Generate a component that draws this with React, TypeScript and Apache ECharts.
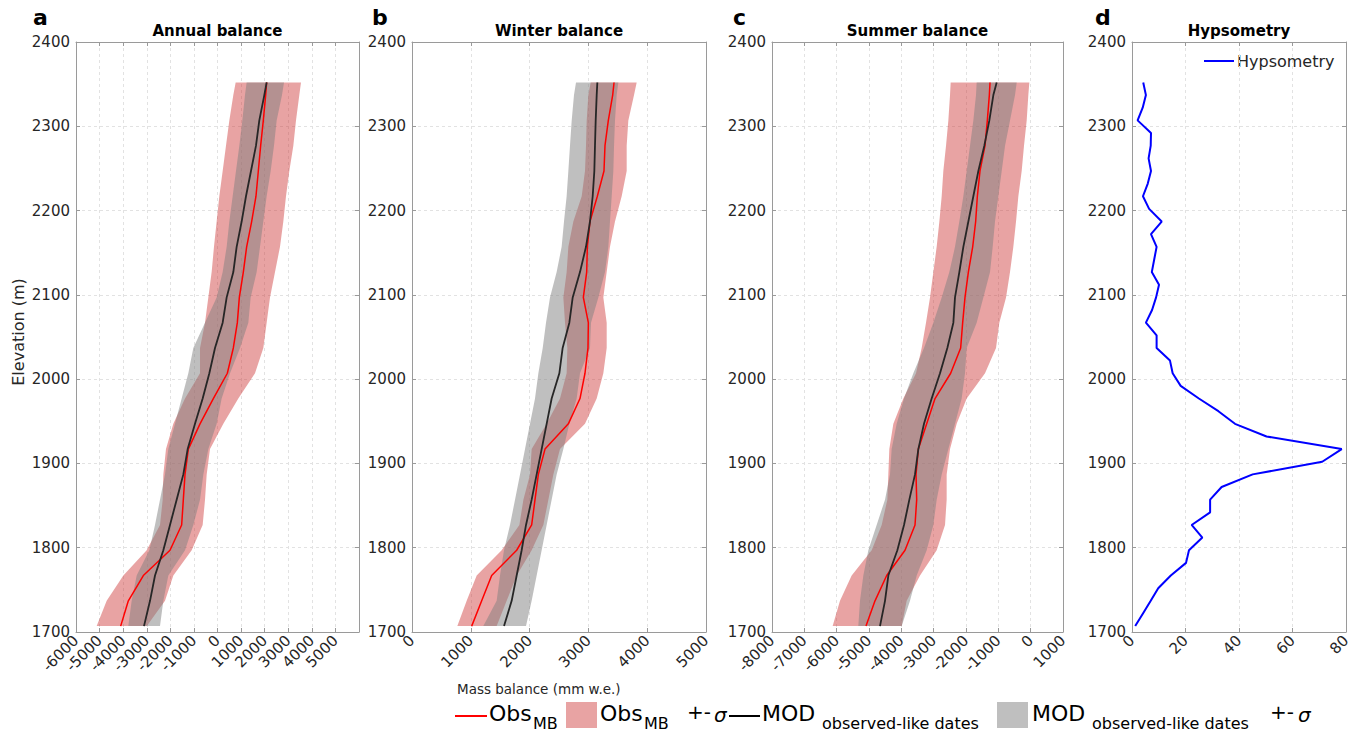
import React, { useEffect, useRef } from 'react';
import * as echarts from 'echarts';

const FONT = '"DejaVu Sans", Verdana, sans-serif';

// Elevation levels (m) of the mass-balance profiles
const ELEV = [1707, 1737, 1767, 1797, 1827, 1857, 1887, 1917, 1947, 1977, 2007, 2037, 2067, 2097, 2127, 2157, 2187, 2217, 2247, 2277, 2307, 2337, 2352];

// a: Annual balance (mm w.e.)
const A_OBS_LO = [-5123, -4699, -3993, -3003, -2438, -2325, -2297, -2184, -1873, -1378, -742, -742, -530, -389, -248, -149, -36, 77, 219, 360, 502, 671, 770];
const A_OBS_HI = [-2997, -2226, -1873, -1096, -629, -530, -459, -318, 247, 883, 1590, 1943, 2084, 2226, 2438, 2650, 2791, 2904, 3045, 3215, 3328, 3469, 3540];
const A_OBS = [-4106, -3781, -3145, -2014, -1520, -1449, -1378, -1237, -742, -177, 417, 671, 841, 926, 1095, 1236, 1448, 1632, 1731, 1830, 1943, 2042, 2084];
const A_MOD_LO = [-3781, -3639, -3427, -2890, -2650, -2438, -2226, -2085, -1802, -1520, -1237, -1025, -530, -36, 219, 389, 502, 643, 784, 926, 1053, 1166, 1236];
const A_MOD_HI = [-2438, -2297, -2085, -1378, -1025, -742, -601, -389, -36, 176, 530, 954, 1307, 1406, 1660, 1802, 1943, 2084, 2254, 2395, 2508, 2735, 2820];
const A_MOD = [-3117, -2862, -2650, -2297, -2014, -1732, -1449, -1265, -954, -629, -346, -106, 219, 389, 671, 812, 1024, 1208, 1420, 1632, 1773, 1985, 2084];

// b: Winter balance
const B_OBS_LO = [771, 930, 1100, 1525, 1826, 1894, 2007, 2035, 2290, 2517, 2630, 2642, 2602, 2574, 2630, 2659, 2744, 2886, 2942, 2959, 2971, 2999, 3039];
const B_OBS_HI = [1440, 1610, 1780, 2035, 2234, 2319, 2404, 2517, 2942, 3141, 3254, 3311, 3311, 3254, 3311, 3367, 3452, 3566, 3651, 3651, 3679, 3776, 3821];
const B_OBS = [1015, 1185, 1355, 1780, 2035, 2092, 2149, 2262, 2659, 2857, 2942, 2993, 2999, 2914, 2971, 2982, 3027, 3152, 3265, 3282, 3339, 3413, 3436];
const B_MOD_LO = [1213, 1440, 1497, 1565, 1667, 1752, 1837, 1922, 2007, 2092, 2149, 2223, 2279, 2347, 2460, 2545, 2585, 2630, 2659, 2687, 2716, 2755, 2789];
const B_MOD_HI = [1939, 2035, 2120, 2205, 2290, 2375, 2460, 2574, 2676, 2800, 2857, 3027, 3044, 3169, 3282, 3339, 3367, 3396, 3424, 3436, 3452, 3481, 3509];
const B_MOD = [1565, 1695, 1780, 1865, 1939, 2035, 2120, 2205, 2290, 2375, 2506, 2562, 2676, 2733, 2857, 2959, 3027, 3073, 3101, 3112, 3124, 3141, 3152];

// c: Summer balance
const C_OBS_LO = [-6124, -5897, -5536, -4917, -4608, -4433, -4402, -4371, -4247, -3938, -3546, -3371, -3237, -3113, -3010, -2907, -2824, -2752, -2701, -2618, -2546, -2494, -2474];
const C_OBS_HI = [-3989, -3835, -3422, -2907, -2649, -2598, -2598, -2494, -2288, -1979, -1412, -1072, -969, -762, -639, -536, -453, -381, -278, -206, -123, -72, -41];
const C_OBS = [-5093, -4814, -4453, -3886, -3577, -3525, -3546, -3474, -3216, -2958, -2474, -2165, -2103, -2031, -1927, -1793, -1701, -1649, -1567, -1412, -1340, -1278, -1257];
const C_MOD_LO = [-5330, -5278, -5175, -5020, -4763, -4505, -4350, -4299, -4144, -3917, -3629, -3299, -3010, -2752, -2515, -2340, -2206, -2082, -1979, -1876, -1773, -1690, -1670];
const C_MOD_HI = [-3989, -3732, -3525, -3216, -3010, -2907, -2752, -2546, -2340, -2134, -2031, -1979, -1670, -1463, -1257, -1175, -1103, -1000, -896, -793, -639, -484, -432];
const C_MOD = [-4660, -4505, -4402, -4123, -3917, -3752, -3577, -3474, -3299, -3062, -2804, -2577, -2391, -2340, -2206, -2082, -1927, -1773, -1618, -1433, -1278, -1154, -1051];

// d: Hypsometry
const HYPSO_ELEV = [1707, 1722, 1737, 1752, 1767, 1782, 1797, 1812, 1827, 1842, 1857, 1872, 1887, 1902, 1917, 1932, 1947, 1962, 1977, 1992, 2007, 2022, 2037, 2052, 2067, 2082, 2097, 2112, 2127, 2142, 2157, 2172, 2187, 2202, 2217, 2232, 2247, 2262, 2277, 2292, 2307, 2322, 2337, 2352];
const HYPSO = [1.2, 4.1, 7.0, 9.8, 14.5, 20.2, 21.3, 26.3, 22.3, 29.2, 29.2, 33.5, 45.1, 71.1, 78.4, 50.3, 38.5, 32.3, 25, 18.2, 15.2, 14.2, 9.2, 9.2, 5.2, 7.5, 9.0, 10.1, 7.4, 8.3, 9.2, 7.1, 11.1, 6.4, 4.1, 5.9, 7.1, 6.2, 7.0, 7.1, 2.1, 4.0, 5.2, 4.2];

const TITLES = ['Annual balance', 'Winter balance', 'Summer balance', 'Hypsometry'];
const LETTERS = ['a', 'b', 'c', 'd'];

const PANELS = [
  { min: -6000, max: 6000, interval: 1000, hideMax: true, obsLo: A_OBS_LO, obsHi: A_OBS_HI, obs: A_OBS, modLo: A_MOD_LO, modHi: A_MOD_HI, mod: A_MOD },
  { min: 0, max: 5000, interval: 1000, hideMax: false, obsLo: B_OBS_LO, obsHi: B_OBS_HI, obs: B_OBS, modLo: B_MOD_LO, modHi: B_MOD_HI, mod: B_MOD },
  { min: -8000, max: 1000, interval: 1000, hideMax: false, obsLo: C_OBS_LO, obsHi: C_OBS_HI, obs: C_OBS, modLo: C_MOD_LO, modHi: C_MOD_HI, mod: C_MOD },
];

const GRIDS = [
  { left: 76, top: 42, width: 283, height: 590 },
  { left: 412, top: 42, width: 294, height: 590 },
  { left: 772, top: 42, width: 291, height: 590 },
  { left: 1132, top: 42, width: 214, height: 590 },
];

const AXIS_COLOR = '#9a9a9a';
const LABEL_COLOR = '#262626';
const PINK = 'rgba(204,51,51,0.45)';
const GRAY = 'rgba(128,128,128,0.5)';
const plain = (v: number) => String(v);

function bandSeries(idx: number, lo: number[], hi: number[], fill: string, name: string) {
  return {
    type: 'custom',
    name,
    xAxisIndex: idx * 2,
    yAxisIndex: idx * 2,
    silent: true,
    data: ELEV.map((e, i) => [lo[i], hi[i], e]),
    encode: { x: [0, 1], y: 2 },
    renderItem: (params: any, api: any) => {
      if (params.dataIndex !== 0) return null;
      const pts: number[][] = [];
      for (let i = 0; i < ELEV.length; i++) pts.push(api.coord([lo[i], ELEV[i]]));
      for (let i = ELEV.length - 1; i >= 0; i--) pts.push(api.coord([hi[i], ELEV[i]]));
      return { type: 'polygon', shape: { points: pts }, style: { fill, stroke: null } };
    },
  };
}

function buildOption() {
  const xAxis: any[] = [];
  const yAxis: any[] = [];
  const xDefs = [
    ...PANELS.map((p) => ({ min: p.min, max: p.max, interval: p.interval, hideMax: p.hideMax })),
    { min: 0, max: 80, interval: 20, hideMax: false },
  ];
  xDefs.forEach((d, i) => {
    const axisLabel: any = { rotate: 45, margin: 6, fontSize: 15, color: LABEL_COLOR, fontFamily: FONT, formatter: plain };
    if (d.hideMax) axisLabel.showMaxLabel = false;
    xAxis.push({
      type: 'value', gridIndex: i, position: 'bottom', min: d.min, max: d.max, interval: d.interval,
      axisLine: { show: true, onZero: false, lineStyle: { color: AXIS_COLOR, width: 1 } },
      axisTick: { show: true, inside: true, length: 4, lineStyle: { color: AXIS_COLOR } },
      axisLabel,
      splitLine: { show: true, lineStyle: { color: '#e2e2e2', type: [3, 3], width: 1 } },
    });
    xAxis.push({
      type: 'value', gridIndex: i, position: 'top', min: d.min, max: d.max, interval: d.interval,
      axisLine: { show: true, onZero: false, lineStyle: { color: AXIS_COLOR, width: 1 } },
      axisTick: { show: true, inside: true, length: 4, lineStyle: { color: AXIS_COLOR } },
      axisLabel: { show: false },
      splitLine: { show: false },
    });
    yAxis.push({
      type: 'value', gridIndex: i, position: 'left', min: 1700, max: 2400, interval: 100,
      axisLine: { show: true, onZero: false, lineStyle: { color: AXIS_COLOR, width: 1 } },
      axisTick: { show: true, inside: true, length: 4, lineStyle: { color: AXIS_COLOR } },
      axisLabel: { margin: 6, fontSize: 15, color: LABEL_COLOR, fontFamily: FONT, formatter: plain },
      splitLine: { show: true, lineStyle: { color: '#e2e2e2', type: [3, 3], width: 1 } },
    });
    yAxis.push({
      type: 'value', gridIndex: i, position: 'right', min: 1700, max: 2400, interval: 100,
      axisLine: { show: true, onZero: false, lineStyle: { color: AXIS_COLOR, width: 1 } },
      axisTick: { show: true, inside: true, length: 4, lineStyle: { color: AXIS_COLOR } },
      axisLabel: { show: false },
      splitLine: { show: false },
    });
  });

  const series: any[] = [];
  PANELS.forEach((p, i) => {
    series.push(bandSeries(i, p.obsLo, p.obsHi, PINK, 'Obs_MB +- σ'));
    series.push({
      type: 'line', name: 'Obs_MB', xAxisIndex: i * 2, yAxisIndex: i * 2, symbol: 'none',
      data: ELEV.map((e, k) => [p.obs[k], e]),
      lineStyle: { color: '#ff0000', width: 1.5 },
    });
    series.push(bandSeries(i, p.modLo, p.modHi, GRAY, 'MOD +- σ'));
    series.push({
      type: 'line', name: 'MOD', xAxisIndex: i * 2, yAxisIndex: i * 2, symbol: 'none',
      data: ELEV.map((e, k) => [p.mod[k], e]),
      lineStyle: { color: '#262626', width: 1.8 },
    });
  });
  series.push({
    type: 'line', name: 'Hypsometry', xAxisIndex: 6, yAxisIndex: 6, symbol: 'none',
    data: HYPSO_ELEV.map((e, k) => [HYPSO[k], e]),
    lineStyle: { color: '#0000ff', width: 2 },
  });

  const graphic: any[] = [];
  GRIDS.forEach((g, i) => {
    graphic.push({
      type: 'text', x: g.left + g.width / 2, y: 31,
      style: { text: TITLES[i], fontSize: 15, fontWeight: 'bold', fontFamily: FONT, fill: '#000', textAlign: 'center', textVerticalAlign: 'middle' },
    });
  });
  const letterX = [33, 372, 733, 1095];
  LETTERS.forEach((l, i) => {
    graphic.push({
      type: 'text', x: letterX[i], y: 17,
      style: { text: l, fontSize: 22, fontWeight: 'bold', fontFamily: FONT, fill: '#000', textAlign: 'left', textVerticalAlign: 'middle' },
    });
  });
  graphic.push({
    type: 'text', x: 18, y: 332, rotation: Math.PI / 2,
    style: { text: 'Elevation (m)', fontSize: 16, fontFamily: FONT, fill: LABEL_COLOR, textAlign: 'center', textVerticalAlign: 'middle' },
  });
  graphic.push({
    type: 'text', x: 457, y: 689,
    style: { text: 'Mass balance (mm w.e.)', fontSize: 13.5, fontFamily: FONT, fill: LABEL_COLOR, textAlign: 'left', textVerticalAlign: 'middle' },
  });
  // Hypsometry legend
  graphic.push({ type: 'line', shape: { x1: 1204, y1: 61, x2: 1234, y2: 61 }, style: { stroke: '#0000ff', lineWidth: 2 } });
  graphic.push({
    type: 'text', x: 1237, y: 61,
    style: { text: 'Hypsometry', fontSize: 16, fontFamily: FONT, fill: LABEL_COLOR, textAlign: 'left', textVerticalAlign: 'middle' },
  });
  // Bottom legend
  const main = (x: number, t: string) => ({
    type: 'text', x, y: 713,
    style: { text: t, fontSize: 22, fontFamily: FONT, fill: '#000', textAlign: 'left', textVerticalAlign: 'middle' },
  });
  const sub = (x: number, t: string) => ({
    type: 'text', x, y: 723,
    style: { text: t, fontSize: 16, fontFamily: FONT, fill: '#000', textAlign: 'left', textVerticalAlign: 'middle' },
  });
  const pm = (x: number) => ({
    type: 'text', x, y: 712,
    style: { text: '+-', fontSize: 20, fontFamily: FONT, fill: '#000', textAlign: 'left', textVerticalAlign: 'middle' },
  });
  const sigma = (x: number) => ({
    type: 'text', x, y: 715,
    style: { text: 'σ', fontSize: 20, fontStyle: 'italic', fontFamily: FONT, fill: '#000', textAlign: 'left', textVerticalAlign: 'middle' },
  });
  graphic.push({ type: 'line', shape: { x1: 455, y1: 716, x2: 487, y2: 716 }, style: { stroke: '#ff0000', lineWidth: 2 } });
  graphic.push(main(489, 'Obs'), sub(533, 'MB'));
  graphic.push({ type: 'rect', shape: { x: 566, y: 702, width: 31, height: 26 }, style: { fill: '#e8a3a3' } });
  graphic.push(main(600, 'Obs'), sub(644, 'MB'), pm(687), sigma(714));
  graphic.push({ type: 'line', shape: { x1: 729, y1: 716, x2: 760, y2: 716 }, style: { stroke: '#000', lineWidth: 2 } });
  graphic.push(main(762, 'MOD'), sub(822, 'observed-like dates'));
  graphic.push({ type: 'rect', shape: { x: 997, y: 702, width: 31, height: 26 }, style: { fill: '#bfbfbf' } });
  graphic.push(main(1032, 'MOD'), sub(1092, 'observed-like dates'), pm(1270), sigma(1298));

  return {
    animation: false,
    backgroundColor: '#ffffff',
    textStyle: { fontFamily: FONT },
    grid: GRIDS.map((g) => ({ ...g, containLabel: false })),
    xAxis,
    yAxis,
    series,
    graphic,
  };
}

export default function App() {
  const ref = useRef<HTMLDivElement>(null);
  useEffect(() => {
    const chart = echarts.init(ref.current!, null, { renderer: 'svg' });
    chart.setOption(buildOption() as any);
    return () => chart.dispose();
  }, []);
  return (
    <div
      ref={ref}
      style={{ position: 'fixed', left: 0, top: 0, width: 1368, height: 733, background: '#fff' }}
    />
  );
}
